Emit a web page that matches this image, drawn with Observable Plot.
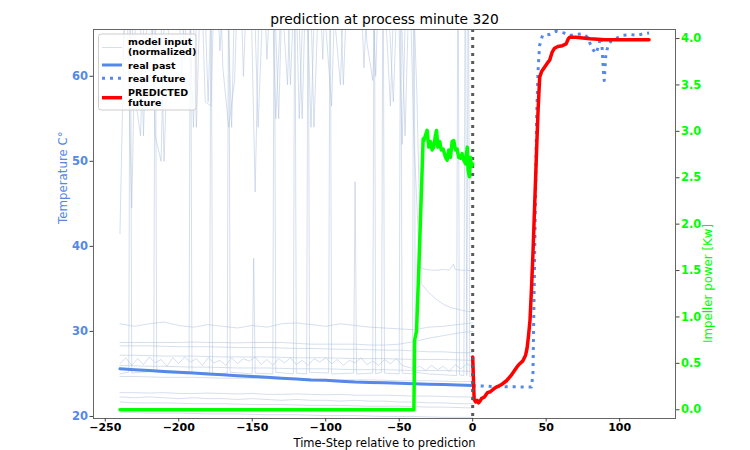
<!DOCTYPE html>
<html><head><meta charset="utf-8">
<script src="https://cdn.jsdelivr.net/npm/d3@7"></script>
<script src="https://cdn.jsdelivr.net/npm/@observablehq/plot@0.6"></script>
<style>
body{margin:0;background:#fff;}
svg{font-family:"DejaVu Sans",sans-serif;}
</style>
</head><body><div id="chart"></div>
<script>
// ---------------- data ----------------
const titleText = "prediction at process minute 320";
const xLabel = "Time-Step relative to prediction";
const yLabelLeft = "Temperature C°";
const yLabelRight = "Impeller power [Kw]";
const xTicks = [-250, -200, -150, -100, -50, 0, 50, 100];
const tempTicks = [20, 30, 40, 50, 60];
const powerTicks = [0.0, 0.5, 1.0, 1.5, 2.0, 2.5, 3.0, 3.5, 4.0];

// real past temperature
const pastT = [-240,-230,-220,-210,-200,-190,-180,-170,-160,-150,-140,-130,-120,-110,-100,-90,-80,-70,-60,-50,-40,-30,-20,-10,0];
const pastV = [25.6,25.5,25.4,25.3,25.2,25.1,25.0,24.9,24.8,24.7,24.6,24.5,24.4,24.3,24.25,24.15,24.05,24.0,23.95,23.9,23.85,23.8,23.75,23.7,23.65];

// real future temperature
const futT = [0,5,10,15,20,25,30,35,40,41,41.5,42.5,43.5,44.5,45.5,47.5,52,57,62,66,70,75,78,80,82,84,86,87,88,88.5,89,89.5,90.5,92,94,97,102,108,112,116,120];
const futV = [23.6,23.6,23.55,23.5,23.5,23.5,23.5,23.45,23.45,25,31,43,55,60.7,63.6,64.8,64.9,65.3,65.1,64.8,64.9,65.0,64.6,63.8,63.1,62.7,63.8,64.6,63.5,62.0,60.5,59.5,62.3,63.6,64.1,64.4,64.8,64.9,64.8,65.0,65.1];

// predicted future temperature
const predT = [0,0.5,1,2,3,4,5,6,8,10,12,14,16,18,20,23,26,28,30,32,34,36,37,38,39,40,41,42,43.4,44.5,45.6,47,49,51,52.4,54,55.7,58,61,63.6,65,66,70,80,90,100,110,120];
const predV = [27.0,24.5,22.0,21.7,21.9,21.6,21.8,22.1,22.3,22.8,22.9,23.2,23.45,23.6,23.8,24.2,24.8,25.3,25.8,26.2,26.5,27.2,28.0,29.5,31.3,35,39.1,44,50.9,56,59.9,60.6,61.1,61.6,61.9,62.8,63.3,63.5,63.6,63.8,64.4,64.6,64.6,64.4,64.3,64.3,64.3,64.3];

// impeller power (right axis, kW)
const powT = [-240,-40,-39.5,-38.2,-36.6,-35,-33.7,-33.3,-32.1,-31,-29.9,-28.7,-27.6,-26.5,-25.3,-24.6,-23.7,-22.4,-21.4,-20.1,-18.5,-17.4,-16.3,-15.1,-14,-12.9,-11.7,-10.6,-9.5,-8.3,-7.2,-6.1,-4.9,-3.7,-3.1,-2.2,-1.5,-0.8,0];
const powV = [0,0,0.75,0.85,1.55,2.3,2.92,2.9,2.96,3.01,2.83,2.89,2.8,2.83,2.96,3.01,2.83,2.89,2.8,2.81,2.72,2.69,2.8,2.72,2.89,2.9,2.8,2.81,2.72,2.71,2.76,2.69,2.65,2.83,2.58,2.51,2.72,2.62,2.65];

// model input (normalized) - smooth channels
const inT = [-240,-230,-220,-210,-200,-190,-180,-170,-160,-150,-140,-130,-120,-110,-100,-90,-80,-70,-60,-50,-40,-30,-20,-10,0];
const inA = [30.9,30.6,30.9,31.1,30.7,30.5,30.8,30.6,30.4,30.7,30.5,30.9,31.0,30.8,30.6,30.9,30.7,30.5,30.4,30.3,30.2,30.5,30.6,30.8,31.0];
const inB = [28.7,28.7,28.7,28.7,28.7,28.75,28.7,28.7,28.65,28.7,28.7,28.7,28.6,28.5,28.5,28.5,28.5,28.4,28.4,28.5,28.8,29.2,29.5,29.8,30.0];
const inC = [28.3,28.3,28.3,28.25,28.2,28.2,28.2,28.15,28.1,28.1,28.1,28.05,28.0,28.0,27.95,27.9,27.9,27.85,27.8,27.8,27.7,27.6,27.6,27.5,27.5];
const inD = [27.2,27.2,27.15,27.1,27.1,27.1,27.05,27.0,27.0,27.0,27.0,26.95,26.9,26.9,26.9,26.85,26.8,26.8,26.8,26.75,26.7,26.7,26.7,26.65,26.6];
const inK = [26.0,25.95,25.9,25.9,25.85,25.8,25.8,25.75,25.7,25.7,25.7,25.65,25.6,25.6,25.6,25.55,25.5,25.5,25.5,25.45,25.4,25.4,25.4,25.35,25.3];
const inF = [24.7,24.7,24.65,24.6,24.6,24.6,24.55,24.5,24.5,24.5,24.45,24.4,24.4,24.4,24.35,24.3,24.3,24.3,24.25,24.2,24.2,24.2,24.15,24.1,24.1];
const inG = [22.8,22.8,22.75,22.8,22.7,22.7,22.75,22.7,22.65,22.7,22.6,22.6,22.65,22.6,22.55,22.6,22.5,22.5,22.5,22.45,22.4,22.4,22.35,22.3,22.3];
const inH = [22.3,22.2,22.3,22.2,22.1,22.2,22.1,22.1,22.0,22.1,22.0,21.9,22.0,21.9,21.9,21.8,21.9,21.8,21.8,21.7,21.7,21.6,21.6,21.5,21.5];
const inI = [21.7,21.6,21.6,21.6,21.55,21.5,21.5,21.5,21.45,21.4,21.4,21.4,21.35,21.3,21.3,21.3,21.25,21.2,21.2,21.2,21.15,21.1,21.1,21.05,21.0];
const inJ = [20.5,20.45,20.4,20.4,20.4,20.35,20.3,20.3,20.3,20.25,20.2,20.2,20.2,20.15,20.1,20.1,20.1,20.05,20.0,20.0,20.0,19.95,19.9,19.9,19.9];

// model input - jagged channel (every 4 steps)
const jagT = [-240,-236,-232,-228,-224,-220,-216,-212,-208,-204,-200,-196,-192,-188,-184,-180,-176,-172,-168,-164,-160,-156,-152,-148,-144,-140,-136,-132,-128,-124,-120,-116,-112,-108,-104,-100,-96,-92,-88,-84,-80,-76,-72,-68,-64,-60,-56,-52,-48,-44,-40,-36,-32,-28,-24,-20,-16,-12,-8,-4,0];
const jagV = [26.2,26.9,26.0,26.8,26.1,27.0,26.3,26.7,25.9,26.9,26.2,27.0,26.4,26.8,26.0,26.9,26.3,26.6,26.0,26.9,26.2,26.8,26.5,27.0,26.1,26.7,26.0,26.8,26.3,26.9,26.1,26.6,26.0,26.8,26.4,26.9,26.2,26.7,26.0,26.6,26.3,26.9,26.1,26.5,26.0,26.7,26.2,26.8,26.0,25.8,25.6,25.9,25.4,26.0,25.5,25.9,25.3,26.1,25.6,26.2,25.8];

// model input - spiky channel (low baseline with spikes)
const spikeT = [-240,-234,-233,-232,-217,-216,-215,-193,-192,-191,-179,-178,-177,-167,-166,-165,-150,-149,-148,-136,-135,-134,-122,-121,-120,-113,-112,-111,-98,-97,-96,-81,-80,-79,-68,-67,-66,-62,-61,-60,-50,-49,-48,-41,-40,-39,-30,-20,-11,-10,-9,-6,-5,-4,-3,-2,0];
const spikeV = [25.0,25.2,80,25.1,25.3,80,25.2,25.0,80,25.1,25.2,80,25.0,25.1,80,25.2,25.0,38.6,25.1,25.0,80,25.2,25.0,80,25.1,25.0,80,25.2,25.1,80,25.0,25.1,47.6,25.0,25.1,80,25.0,25.2,80,25.1,25.0,80,25.1,25.0,80,25.2,25.0,24.9,24.8,80,24.9,24.8,80,24.8,80,24.7,24.7];

// model input - high noisy channels
const high1T = [-240,-236,-232,-228,-224,-220,-216,-212,-208,-204,-200,-196,-192,-188,-184,-180,-176,-172,-168,-164,-160,-156,-152,-148,-144,-140,-136,-132,-128,-124,-120,-116,-112,-108,-104,-100,-96,-92,-88,-84,-80,-76,-72,-68,-64,-60,-56,-52,-48,-44,-40,-36,-32,-28,-24,-20,-16,-13,-12,-8,-4,0];
const high1V = [41.5,75,44.5,80,53,78,53,50,82,70,76,62,80,54,78,57,80,63,75,54,85,60,79,46.4,80,62,76,55,81,59,77,55,82,54,74,66,56.5,80,59,77,68,78,64,59.5,80,70,56.5,78,52,80,52.8,37.5,37.3,37.2,37.2,37.3,37.2,37.9,37.3,37.2,37.2,37.1];
const high2T = [-238,-234,-230,-226,-222,-218,-214,-210,-206,-202,-198,-194,-190,-186,-182,-178,-174,-170,-166,-162,-158,-154,-150,-146,-142,-138,-134,-130,-126,-122,-118,-114,-110,-106,-102,-98,-94,-90,-86,-82,-78,-74,-70,-66,-62,-58,-54,-50,-46,-42,-38,-35,-30,-25,-20,-15,-10,-5,0];
const high2V = [62,79,58,53,77,64,83,50,71,79,60,75,54,80,57,56.5,84,61,54,59.5,81,66,78,54,72,80,55,70,59,83,55,76,54,79,62,82,67,59,79,72,80,61,76,60,82,71,57,77,53,79,58,35.6,34.6,33.8,33.2,32.8,32.6,32.4,32.3];

// legend entries
const legendLabels = [["model input", "(normalized)"], ["real past"], ["real future"], ["PREDICTED", "future"]];

// ---------------- colours ----------------
const BLUE = "#5588e8", GREEN = "#00ff00", RED = "#ff0000", INPUT = "#b0c4de";

// ---------------- helpers ----------------
// right-axis power (kW) -> left-axis temperature coordinate
const powToTemp = p => 20.788 + p * 10.912;
const tempToPow = v => (v - 20.788) / 10.912;

const zip = (ts, vs, k) => ts.map((t, i) => ({t, v: vs[i], k}));
const smoothInputs = [inA, inB, inC, inD, inK, inF, inG, inH, inI, inJ].flatMap((vs, j) => zip(inT, vs, "s" + j));
const inputs = [
  ...smoothInputs,
  ...zip(jagT, jagV, "jag"),
  ...zip(spikeT, spikeV, "spike"),
  ...zip(high1T, high1V, "h1"),
  ...zip(high2T, high2V, "h2")
];
const past = zip(pastT, pastV);
const fut = zip(futT, futV);
const pred = zip(predT, predV);
const power = powT.map((t, i) => ({t, v: powToTemp(powV[i])}));

const chart = Plot.plot({
  width: 750, height: 450,
  marginLeft: 93, marginRight: 75, marginTop: 29, marginBottom: 32,
  style: {fontFamily: "DejaVu Sans", background: "white", overflow: "visible"},
  x: {domain: [-258, 138]},
  y: {domain: [19.76, 65.5]},
  marks: [
    Plot.line(inputs, {x: "t", y: "v", z: "k", stroke: INPUT, strokeWidth: 0.9, strokeOpacity: 0.6, clip: true}),
    Plot.line(past, {x: "t", y: "v", stroke: BLUE, strokeWidth: 3, clip: true}),
    Plot.line(fut, {x: "t", y: "v", stroke: BLUE, strokeWidth: 3, strokeDasharray: "3,5", strokeLinecap: "butt", clip: true}),
    Plot.line(pred, {x: "t", y: "v", stroke: RED, strokeWidth: 3.5, clip: true}),
    Plot.ruleX([0], {stroke: "#5a5a5a", strokeWidth: 3, strokeDasharray: "3,5", strokeLinecap: "butt"}),
    Plot.line(power, {x: "t", y: "v", stroke: GREEN, strokeWidth: 3.5, clip: true}),
    Plot.frame({stroke: "#666", strokeWidth: 1}),
    Plot.axisX({ticks: xTicks, tickSize: 3.5, tickPadding: 1.5, stroke: "#444", fill: "black", fontWeight: "bold", fontSize: 11, label: null, tickFormat: d => d < 0 ? "\u2212" + Math.abs(d) : String(d)}),
    Plot.axisY({ticks: tempTicks, anchor: "left", tickSize: 3.5, tickPadding: 2, stroke: "#444", fill: BLUE, fontWeight: "bold", fontSize: 11.5, label: null}),
    Plot.axisY({ticks: powerTicks.map(powToTemp), anchor: "right", tickSize: 3.5, tickPadding: 2, stroke: "#444", fill: GREEN, fontWeight: "bold", fontSize: 11.5, label: null, tickFormat: d => tempToPow(d).toFixed(1)}),
    Plot.text([titleText], {frameAnchor: "top", text: d => d, lineAnchor: "bottom", dy: -6, fontSize: 13.8, fill: "black"}),
    Plot.text([xLabel], {frameAnchor: "bottom", text: d => d, lineAnchor: "bottom", dy: 28.5, fontSize: 11.5, fill: "black"}),
    Plot.text([yLabelLeft], {frameAnchor: "left", text: d => d, rotate: -90, dx: -30, fontSize: 11.8, fill: BLUE}),
    Plot.text([yLabelRight], {frameAnchor: "right", text: d => d, rotate: -90, dx: 33, fontSize: 11.8, fill: GREEN})
  ]
});
document.getElementById("chart").appendChild(chart);

// ---------------- legend (inside plot, upper left) ----------------
const svg = d3.select(chart);
const lg = svg.append("g").attr("font-family", "DejaVu Sans").attr("font-size", 9.5).attr("font-weight", "bold").attr("text-anchor", "start");
lg.append("rect").attr("x", 98.5).attr("y", 34).attr("width", 97.5).attr("height", 76).attr("rx", 2.5)
  .attr("fill", "white").attr("fill-opacity", 0.8).attr("stroke", "#cccccc").attr("stroke-width", 1);
const samples = [
  {y: 47.5, stroke: INPUT, w: 0.9, dash: null, op: 0.6},
  {y: 65, stroke: BLUE, w: 3, dash: null, op: 1},
  {y: 78.3, stroke: BLUE, w: 3, dash: "3,5", op: 1},
  {y: 97.7, stroke: RED, w: 3.5, dash: null, op: 1}
];
const textY = [[45, 55], [69], [81.5], [95.5, 105.5]];
samples.forEach((s, i) => {
  const l = lg.append("line").attr("x1", 102).attr("x2", 122).attr("y1", s.y).attr("y2", s.y)
    .attr("stroke", s.stroke).attr("stroke-width", s.w).attr("stroke-opacity", s.op);
  if (s.dash) l.attr("stroke-dasharray", s.dash);
  legendLabels[i].forEach((txt, j) => {
    lg.append("text").attr("x", 128).attr("y", textY[i][j]).attr("fill", "black").attr("text-anchor", "start").text(txt);
  });
});
</script>
</body></html>
